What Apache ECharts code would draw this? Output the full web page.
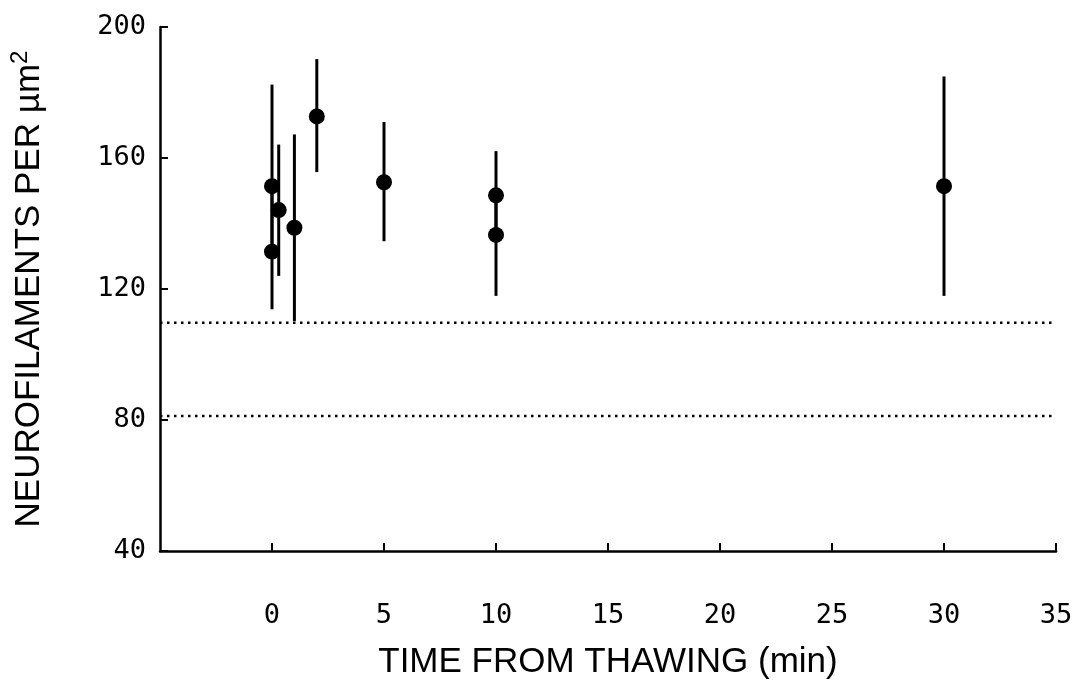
<!DOCTYPE html>
<html>
<head>
<meta charset="utf-8">
<script src="https://cdn.jsdelivr.net/npm/echarts@6/dist/echarts.min.js"></script>
<style>
html,body{margin:0;padding:0;background:#fff;}
#chart{width:1076px;height:687px;}
</style>
</head>
<body>
<div id="chart"></div>
<script>
// Data
var timeMin   = [0,     0,     0.3,   1.0,   2.0,   5.0,   10,    10,    30];
var nfMean    = [151.4, 131.4, 144.1, 138.7, 172.7, 152.6, 148.6, 136.5, 151.4];
var nfLow     = [131.0, 113.8, 124.0, 110.2, 155.7, 134.6, 136.5, 117.9, 117.9];
var nfHigh    = [182.4, 151.0, 164.1, 167.2, 190.2, 171.0, 162.1, 148.6, 184.9];
var refLevels = [109.7, 81.2];
var xTicks = [0, 5, 10, 15, 20, 25, 30, 35];
var yTicks = [40, 80, 120, 160, 200];
var xRange = [-5, 35];
var yRange = [40, 200];

var chart = echarts.init(document.getElementById('chart'), null, {renderer: 'canvas'});

var points = timeMin.map(function (t, i) { return [t, nfMean[i]]; });
var bars = timeMin.map(function (t, i) { return [t, nfLow[i], nfHigh[i]]; });
var refSeries = refLevels.map(function (v) {
  return {
    type: 'line',
    data: [[xRange[0], v], [xRange[1], v]],
    symbol: 'none',
    silent: true,
    lineStyle: {color: '#000', width: 2.5, type: [2.5, 4.5]},
    z: 1
  };
});

var tickFont = {fontFamily: 'DejaVu Sans Mono', fontSize: 27, color: '#000'};

chart.setOption({
  animation: false,
  backgroundColor: '#fff',
  grid: {left: 157, right: 20, top: 27, bottom: 136},
  xAxis: {
    type: 'value',
    min: xRange[0], max: xRange[1], interval: 5,
    name: 'TIME FROM THAWING (min)',
    nameLocation: 'middle',
    nameGap: 94,
    nameTextStyle: {fontFamily: 'Liberation Sans', fontSize: 35, color: '#000'},
    axisLine: {show: true, onZero: false, lineStyle: {color: '#000', width: 2.5}},
    axisTick: {show: true, inside: true, length: 8, customValues: xTicks, lineStyle: {color: '#000', width: 2}},
    axisLabel: Object.assign({margin: 51, customValues: xTicks}, tickFont),
    splitLine: {show: false}
  },
  yAxis: {
    type: 'value',
    min: yRange[0], max: yRange[1], interval: 40,
    name: 'NEUROFILAMENTS PER µm{sup|2}',
    nameLocation: 'middle',
    nameRotate: 90,
    nameGap: 110,
    nameTextStyle: {
      fontFamily: 'Liberation Sans', fontSize: 35, color: '#000',
      rich: {sup: {fontFamily: 'Liberation Sans', fontSize: 24, color: '#000', padding: [0, 0, 18, 0]}}
    },
    axisLine: {show: true, onZero: false, lineStyle: {color: '#000', width: 2.5}},
    axisTick: {show: true, inside: true, length: 8, customValues: yTicks, lineStyle: {color: '#000', width: 2}},
    axisLabel: Object.assign({margin: 14, customValues: yTicks}, tickFont),
    splitLine: {show: false}
  },
  series: refSeries.concat([
    {
      type: 'custom',
      data: bars,
      z: 2,
      renderItem: function (params, api) {
        var x = api.value(0);
        var lo = api.coord([x, api.value(1)]);
        var hi = api.coord([x, api.value(2)]);
        return {
          type: 'line',
          shape: {x1: lo[0], y1: lo[1], x2: hi[0], y2: hi[1]},
          style: {stroke: '#000', lineWidth: 3}
        };
      }
    },
    {
      type: 'scatter',
      data: points,
      symbol: 'circle',
      symbolSize: 16,
      itemStyle: {color: '#000', opacity: 1},
      z: 3
    }
  ])
});
</script>
</body>
</html>
